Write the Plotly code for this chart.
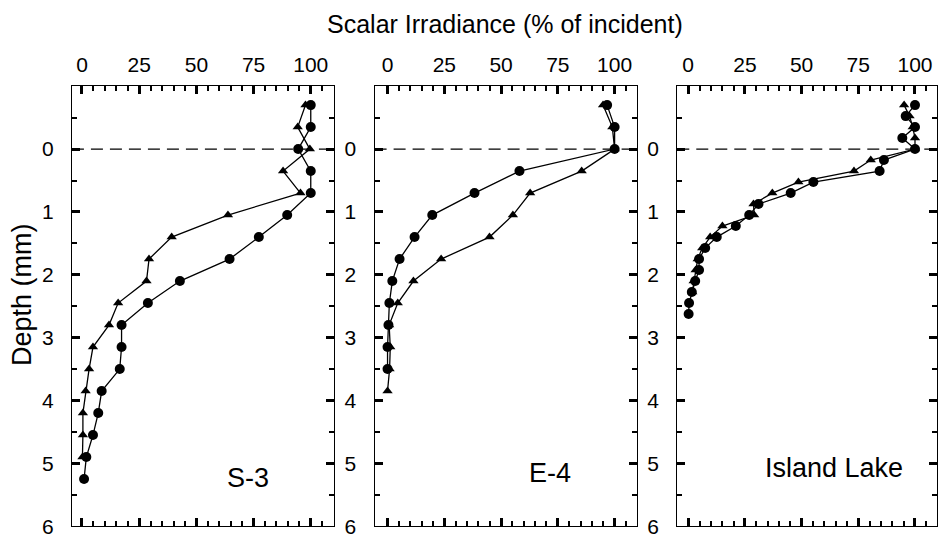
import plotly.graph_objects as go

# ---------------- data ----------------
panel_names = ["S-3", "E-4", "Island Lake"]
x_tick_vals = [0, 25, 50, 75, 100]
y_tick_vals = [0, 1, 2, 3, 4, 5, 6]

s3_circle_depth = [-0.70, -0.35, 0, 0.35, 0.70, 1.05, 1.40, 1.75, 2.10, 2.45, 2.80, 3.15, 3.50, 3.85, 4.20, 4.55, 4.90, 5.25]
s3_circle_irr = [100, 100, 94.5, 100, 100, 89.7, 77.3, 64.5, 42.8, 28.8, 17.3, 17.3, 16.5, 8.6, 7.1, 4.8, 1.9, 0.9]
s3_tri_depth = [-0.70, -0.35, 0, 0.35, 0.70, 1.05, 1.40, 1.75, 2.10, 2.45, 2.80, 3.15, 3.50, 3.85, 4.20, 4.55, 4.90]
s3_tri_irr = [97.7, 94.3, 99.6, 87.9, 95.5, 63.8, 39.2, 29.3, 28.2, 15.8, 11.8, 4.8, 3.1, 1.6, 0.4, 0.4, 0.2]

e4_circle_depth = [-0.70, -0.35, 0, 0.35, 0.70, 1.05, 1.40, 1.75, 2.10, 2.45, 2.80, 3.15, 3.50]
e4_circle_irr = [96.7, 100, 100, 58.1, 38.3, 19.7, 11.9, 5.3, 2.1, 0.8, 0.4, 0, 0]
e4_tri_depth = [-0.70, -0.35, 0, 0.35, 0.70, 1.05, 1.40, 1.75, 2.10, 2.45, 2.80, 3.15, 3.50, 3.85]
e4_tri_irr = [94.9, 99, 100, 85.5, 62.8, 55.2, 44.9, 23.6, 11.4, 4.5, 0.7, 1.2, 0.9, 0]

il_circle_depth = [-0.70, -0.525, -0.35, -0.175, 0, 0.175, 0.35, 0.525, 0.70, 0.875, 1.05, 1.225, 1.40, 1.575, 1.75, 1.925, 2.10, 2.275, 2.45, 2.625]
il_circle_irr = [100, 95.9, 100, 94.4, 100, 86.3, 84.4, 55.2, 45.2, 31.0, 26.9, 21.0, 12.6, 7.5, 4.8, 4.8, 3.1, 1.6, 0.4, 0.2]
il_tri_depth = [-0.70, -0.525, -0.35, -0.175, 0, 0.175, 0.35, 0.525, 0.70, 0.875, 1.05, 1.225, 1.40, 1.575, 1.75, 1.925, 2.10, 2.275]
il_tri_irr = [95.2, 97.6, 99, 100, 100, 80.5, 73.1, 48.6, 37.1, 28.8, 29.1, 15.1, 9.7, 6.2, 4.2, 3.3, 2.4, 1.8]

# ---------------- layout geometry ----------------
W, H = 938, 547
FONT = "Liberation Sans, Arial, Helvetica, sans-serif"
panel_px = [(72, 334), (375, 638), (678, 938)]
x_ranges = [[-4.4, 110.0], [-5.7, 110.0], [-4.8, 109.7]]
y_top_px, y_bot_px = 88, 537

fig = go.Figure()

series = [
    (s3_circle_irr, s3_circle_depth, s3_tri_irr, s3_tri_depth),
    (e4_circle_irr, e4_circle_depth, e4_tri_irr, e4_tri_depth),
    (il_circle_irr, il_circle_depth, il_tri_irr, il_tri_depth),
]

for i, (cx, cy, tx, ty) in enumerate(series):
    sfx = "" if i == 0 else str(i + 1)
    fig.add_trace(go.Scatter(x=tx, y=ty, mode="lines+markers", xaxis="x" + sfx, yaxis="y" + sfx,
                             line=dict(color="black", width=1.3),
                             marker=dict(symbol="triangle-up", size=9, color="black"),
                             showlegend=False))
    fig.add_trace(go.Scatter(x=cx, y=cy, mode="lines+markers", xaxis="x" + sfx, yaxis="y" + sfx,
                             line=dict(color="black", width=1.3),
                             marker=dict(symbol="circle", size=10, color="black"),
                             showlegend=False))

minor_x = [v for v in range(5, 110, 5) if v % 25 != 0]
minor_y = [-0.5, 0.5, 1.5, 2.5, 3.5, 4.5, 5.5]

layout = dict(width=W, height=H, margin=dict(l=0, r=0, t=0, b=0),
              paper_bgcolor="white", plot_bgcolor="white", showlegend=False,
              font=dict(family=FONT, color="black"))

for i in range(3):
    sfx = "" if i == 0 else str(i + 1)
    x0, x1 = panel_px[i]
    layout["xaxis" + sfx] = dict(
        domain=[x0 / W, x1 / W], range=x_ranges[i], anchor="y" + sfx, side="top",
        tickmode="array", tickvals=x_tick_vals, ticks="inside", ticklen=8, tickwidth=2.5,
        tickcolor="black", showline=True, linecolor="black", linewidth=1.2, mirror="allticks",
        showgrid=False, zeroline=False, tickfont=dict(size=21, family=FONT),
        ticklabelstandoff=5, ticklabeloverflow="allow",
        minor=dict(tickmode="array", tickvals=minor_x, ticks="inside", ticklen=5, tickwidth=1.5,
                   tickcolor="black", showgrid=False),
    )
    layout["yaxis" + sfx] = dict(
        domain=[1 - y_bot_px / H, 1 - y_top_px / H], range=[6, -1], anchor="x" + sfx,
        tickmode="array", tickvals=y_tick_vals, ticks="inside", ticklen=8, tickwidth=3,
        tickcolor="black", showline=True, linecolor="black", linewidth=1.2, mirror="allticks",
        showgrid=False, zeroline=False, tickfont=dict(size=21, family=FONT),
        ticklabelstandoff=13, ticklabeloverflow="allow",
        minor=dict(tickmode="array", tickvals=minor_y, ticks="inside", ticklen=5, tickwidth=1.5,
                   tickcolor="black", showgrid=False),
    )

fig.update_layout(**layout)

# dashed surface line at depth 0
for i in range(3):
    sfx = "" if i == 0 else str(i + 1)
    fig.add_shape(type="line", xref=("x" + sfx) + " domain", yref="y" + sfx,
                  x0=0, x1=1, y0=0, y1=0,
                  line=dict(color="black", width=1.3, dash="12px,7px"))

# texts
fig.add_annotation(text="Scalar Irradiance (% of incident)", xref="paper", yref="paper",
                   x=506 / W, y=1 - 25 / H, xanchor="center", yanchor="middle",
                   showarrow=False, font=dict(size=25, family=FONT))
fig.add_annotation(text="Depth (mm)", xref="paper", yref="paper", textangle=-90,
                   x=22 / W, y=1 - 300 / H, xanchor="center", yanchor="middle",
                   showarrow=False, font=dict(size=27, family=FONT))
label_pos = [(248, 488), (551, 483), (835, 478)]
for name, (lx, ly) in zip(panel_names, label_pos):
    fig.add_annotation(text=name, xref="paper", yref="paper", x=lx / W, y=1 - ly / H,
                       xanchor="center", yanchor="middle",
                       showarrow=False, font=dict(size=27, family=FONT))

fig.write_html("out.html")
